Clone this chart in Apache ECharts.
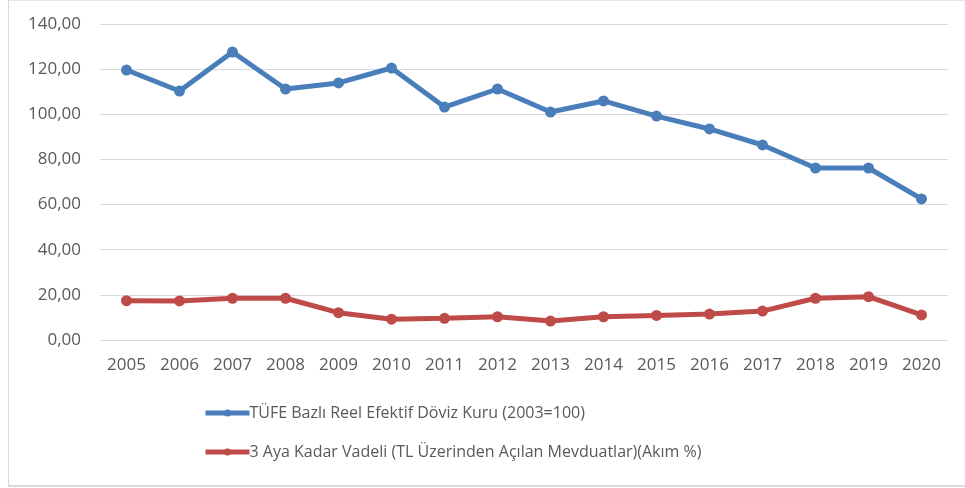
<!DOCTYPE html>
<html>
<head>
<meta charset="utf-8">
<script src="https://cdn.jsdelivr.net/npm/echarts@6/dist/echarts.min.js"></script>
<style>
  html, body { margin: 0; padding: 0; background: #fff; }
  #frame {
    position: absolute; left: 8px; top: 0; width: 970px; height: 484px;
    border-left: 1px solid #d9d9d9; border-top: 1px solid #e6e6e6; border-bottom: 2px solid #d9d9d9;
  }
  #chart { position: absolute; left: 0; top: 0; width: 965px; height: 488px; }
</style>
</head>
<body>
<div id="frame"></div>
<div id="chart"></div>
<script>
// years on the x axis
const years = ['2005', '2006', '2007', '2008', '2009', '2010', '2011', '2012',
  '2013', '2014', '2015', '2016', '2017', '2018', '2019', '2020'];

// TÜFE bazlı reel efektif döviz kuru (2003=100)
const reelKur = [119.6, 110.3, 127.6, 111.2, 113.9, 120.5, 103.2, 111.2,
  101.0, 105.9, 99.2, 93.5, 86.4, 76.2, 76.2, 62.5];

// 3 aya kadar vadeli mevduat faizi (%)
const mevduat = [17.4, 17.3, 18.5, 18.5, 12.1, 9.2, 9.6, 10.3,
  8.4, 10.3, 10.9, 11.5, 12.8, 18.5, 19.2, 11.1];

const seriesNames = [
  'TÜFE Bazlı Reel Efektif Döviz Kuru (2003=100)',
  '3 Aya Kadar Vadeli (TL Üzerinden Açılan Mevduatlar)(Akım %)'
];

const fontFamily = '"Open Sans", "Noto Sans", sans-serif';

function makeLine(name, data, color) {
  return {
    name: name,
    type: 'line',
    data: data,
    symbol: 'circle',
    symbolSize: 11,
    lineStyle: { width: 5, color: color },
    itemStyle: { color: color },
    emphasis: { disabled: true }
  };
}

const chart = echarts.init(document.getElementById('chart'));
chart.setOption({
  animation: false,
  textStyle: { fontFamily: fontFamily },
  grid: { left: 100, right: 17, top: 24, bottom: 148 },
  legend: {
    orient: 'vertical',
    left: 198,
    top: 400,
    itemGap: 23,
    itemWidth: 44,
    itemHeight: 9,
    lineStyle: { width: 5 },
    textStyle: { fontSize: 16, color: '#595959', fontFamily: fontFamily, padding: [0, 0, 0, -5] },
    data: seriesNames
  },
  xAxis: {
    type: 'category',
    data: years,
    boundaryGap: true,
    axisLine: { show: false },
    axisTick: { show: false },
    axisLabel: { color: '#595959', fontSize: 17, margin: 17 }
  },
  yAxis: {
    type: 'value',
    min: 0,
    max: 140,
    interval: 20,
    axisLine: { show: false },
    axisTick: { show: false },
    splitLine: { lineStyle: { color: '#d9d9d9', width: 1 } },
    axisLabel: {
      color: '#595959',
      fontSize: 17,
      margin: 19,
      formatter: function (v) { return v.toFixed(2).replace('.', ','); }
    }
  },
  series: [
    makeLine(seriesNames[0], reelKur, '#4a7ebb'),
    makeLine(seriesNames[1], mevduat, '#be4b48')
  ]
});
</script>
</body>
</html>
